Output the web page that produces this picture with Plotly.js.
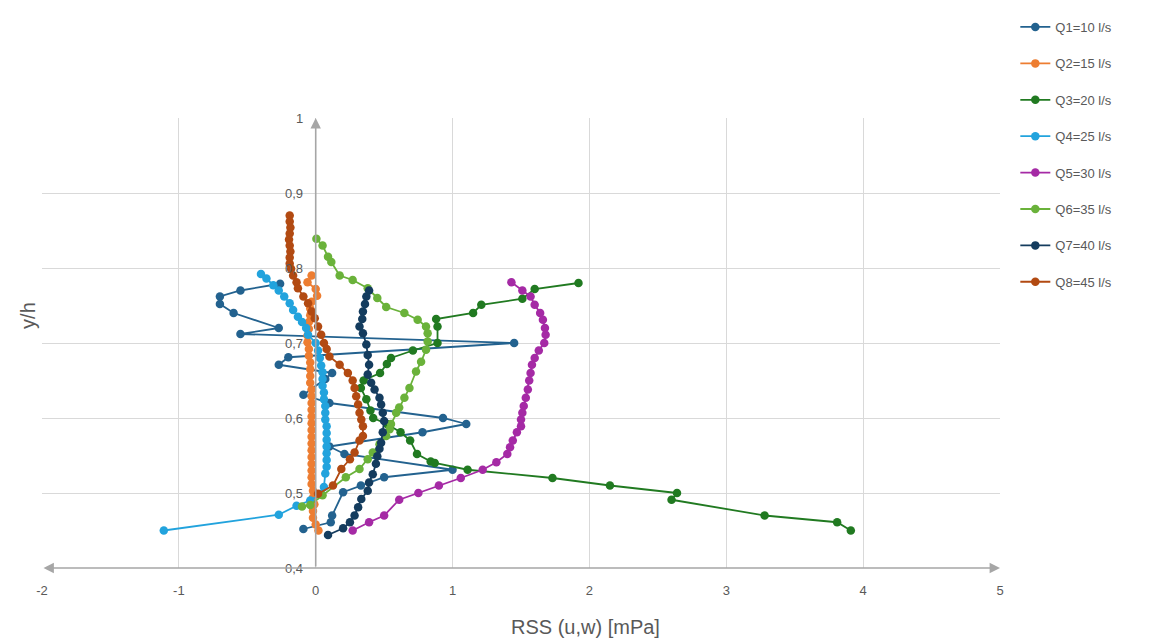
<!DOCTYPE html>
<html>
<head>
<meta charset="utf-8">
<script src="https://cdn.plot.ly/plotly-3.0.1.min.js"></script>
<style>html,body{margin:0;padding:0;background:#fff;}#chart{width:1150px;height:644px;}</style>
</head>
<body>
<div id="chart"></div>
<script>
const seriesNames = ["Q1=10 l/s","Q2=15 l/s","Q3=20 l/s","Q4=25 l/s","Q5=30 l/s","Q6=35 l/s","Q7=40 l/s","Q8=45 l/s"];
const seriesColors = ["#23628f","#ed7d31","#217a21","#22a3dd","#a52aa5","#6ab23a","#143c5e","#b24a12"];

const q1x = [-0.26,-0.55,-0.70,-0.70,-0.60,-0.27,-0.55,1.45,-0.20,-0.27,0.12,0.07,-0.09,0.10,0.93,1.10,0.78,0.10,0.21,1.00,0.50,0.33,0.20,0.12,0.11,-0.09];
const q1y = [0.779,0.770,0.762,0.752,0.740,0.720,0.712,0.700,0.681,0.671,0.660,0.652,0.631,0.620,0.600,0.592,0.581,0.562,0.552,0.531,0.521,0.510,0.501,0.470,0.461,0.452];

const q2x = [-0.03,-0.06,0.00,0.01,-0.03,-0.04,-0.04,-0.05,-0.05,-0.06,-0.06,-0.05,-0.05,-0.04,-0.04,-0.04,-0.04,-0.03,-0.03,-0.03,-0.03,-0.03,-0.03,-0.03,-0.03,-0.03,-0.03,-0.03,-0.03,-0.03,-0.03,-0.03,-0.02,-0.02,-0.01,-0.02,-0.02,0.00,0.02];
const q2y = [0.790,0.781,0.772,0.763,0.755,0.746,0.737,0.728,0.719,0.710,0.701,0.692,0.683,0.674,0.665,0.656,0.647,0.638,0.629,0.620,0.611,0.602,0.593,0.584,0.575,0.566,0.557,0.548,0.539,0.530,0.521,0.512,0.503,0.494,0.485,0.476,0.467,0.458,0.450];

const q3x = [1.92,1.60,1.51,1.21,1.15,0.88,0.89,0.89,0.71,0.55,0.52,0.47,0.35,0.33,0.37,0.40,0.42,0.52,0.62,0.69,0.74,0.84,0.87,1.11,1.73,2.15,2.64,2.60,3.28,3.81,3.91];
const q3y = [0.780,0.772,0.759,0.751,0.740,0.732,0.722,0.700,0.690,0.680,0.672,0.660,0.650,0.640,0.625,0.610,0.600,0.592,0.581,0.570,0.552,0.542,0.540,0.531,0.520,0.510,0.500,0.491,0.470,0.461,0.450];

const q4x = [-0.40,-0.36,-0.31,-0.27,-0.23,-0.19,-0.165,-0.13,-0.10,-0.07,-0.056,0.00,0.017,0.03,0.04,0.05,0.05,0.05,0.06,0.06,0.07,0.07,0.07,0.08,0.08,0.08,0.08,0.08,0.08,0.08,0.07,0.06,0.04,-0.04,-0.14,-0.27,-1.11];
const q4y = [0.792,0.786,0.777,0.770,0.762,0.753,0.744,0.735,0.728,0.720,0.711,0.700,0.690,0.680,0.670,0.661,0.652,0.643,0.634,0.625,0.616,0.607,0.598,0.589,0.580,0.571,0.562,0.553,0.544,0.535,0.526,0.508,0.499,0.490,0.483,0.471,0.450];

const q5x = [1.43,1.51,1.57,1.60,1.64,1.66,1.675,1.68,1.67,1.63,1.60,1.58,1.57,1.56,1.55,1.535,1.52,1.51,1.50,1.50,1.47,1.44,1.42,1.40,1.32,1.22,1.06,0.90,0.75,0.61,0.50,0.39,0.27];
const q5y = [0.781,0.770,0.762,0.751,0.740,0.731,0.720,0.711,0.700,0.690,0.680,0.671,0.660,0.650,0.638,0.627,0.616,0.607,0.598,0.589,0.581,0.570,0.561,0.552,0.541,0.531,0.520,0.510,0.500,0.491,0.470,0.461,0.450];

const q6x = [0.005,0.05,0.09,0.114,0.175,0.27,0.38,0.45,0.515,0.648,0.745,0.806,0.818,0.818,0.806,0.77,0.733,0.685,0.648,0.61,0.588,0.55,0.54,0.515,0.466,0.417,0.38,0.32,0.22,0.05,-0.04,-0.10];
const q6y = [0.839,0.830,0.815,0.808,0.790,0.784,0.773,0.760,0.748,0.740,0.731,0.722,0.713,0.702,0.691,0.675,0.662,0.640,0.627,0.614,0.607,0.592,0.585,0.576,0.565,0.554,0.545,0.532,0.521,0.497,0.484,0.482];

const q7x = [0.39,0.37,0.36,0.345,0.34,0.32,0.345,0.37,0.38,0.39,0.38,0.405,0.43,0.466,0.478,0.49,0.50,0.49,0.478,0.466,0.45,0.44,0.417,0.39,0.38,0.333,0.31,0.284,0.25,0.20,0.09];
const q7y = [0.770,0.762,0.752,0.742,0.732,0.722,0.713,0.698,0.684,0.671,0.658,0.647,0.638,0.627,0.618,0.607,0.596,0.581,0.567,0.559,0.549,0.539,0.525,0.514,0.503,0.492,0.481,0.470,0.461,0.453,0.444];

const q8x = [-0.19,-0.19,-0.185,-0.19,-0.195,-0.19,-0.185,-0.19,-0.19,-0.18,-0.165,-0.14,-0.13,-0.09,-0.056,-0.03,-0.007,0.017,0.04,0.06,0.08,0.10,0.175,0.235,0.27,0.284,0.296,0.31,0.32,0.333,0.345,0.345,0.32,0.284,0.25,0.187,0.126,0.017];
const q8y = [0.870,0.862,0.854,0.846,0.838,0.830,0.822,0.814,0.806,0.799,0.790,0.781,0.773,0.762,0.753,0.742,0.733,0.722,0.711,0.700,0.692,0.682,0.671,0.660,0.650,0.640,0.629,0.618,0.607,0.598,0.589,0.576,0.570,0.554,0.545,0.532,0.510,0.499];

const xTickVals = [-2,-1,0,1,2,3,4,5];
const xTickText = ['-2','-1','0','1','2','3','4','5'];
const yTickVals = [0.4,0.5,0.6,0.7,0.8,0.9,1];
const yTickText = ['0,4','0,5','0,6','0,7','0,8','0,9','1'];

const allX = [q1x,q2x,q3x,q4x,q5x,q6x,q7x,q8x];
const allY = [q1y,q2y,q3y,q4y,q5y,q6y,q7y,q8y];

const traces = allX.map((xs,i)=>({
  type:'scatter', mode:'lines+markers', name:seriesNames[i],
  x:xs, y:allY[i], legendgroup:'g'+i,
  line:{color:seriesColors[i], width:1.8},
  marker:{color:seriesColors[i], size:8.5}
}));

const gray = '#595959';
const layout = {
  width:1150, height:644,
  margin:{l:42, r:150, t:111, b:76},
  paper_bgcolor:'#ffffff', plot_bgcolor:'#ffffff',
  separators:', ',
  font:{family:'Liberation Sans, Arial, sans-serif', color:gray, size:13},
  showlegend:true,
  legend:{x:1.016, y:1.2355, xanchor:'left', yanchor:'top', tracegroupgap:16.5,
          font:{size:13, color:gray}, bgcolor:'rgba(0,0,0,0)'},
  xaxis:{range:[-2,5], tickvals:xTickVals, ticktext:xTickText, showgrid:true, gridcolor:'#d9d9d9', gridwidth:1,
         zeroline:false, showline:false, ticks:'outside', ticklen:10, tickcolor:'rgba(0,0,0,0)',
         tickfont:{size:13, color:gray}, fixedrange:true},
  yaxis:{range:[0.4,1], tickvals:yTickVals, ticktext:yTickText,
         anchor:'free', position:2/7, showgrid:true, gridcolor:'#d9d9d9', gridwidth:1,
         zeroline:false, showline:false, ticks:'outside', ticklen:10, tickcolor:'rgba(0,0,0,0)',
         tickfont:{size:13, color:gray}, fixedrange:true},
  annotations:[
    {x:0, y:1, ax:0, ay:0.4, xref:'x', yref:'y', axref:'x', ayref:'y', text:'', showarrow:true,
     arrowhead:2, arrowsize:1.3, arrowwidth:1.6, arrowcolor:'#a6a6a6'},
    {x:5, y:0.4, ax:-2, ay:0.4, xref:'x', yref:'y', axref:'x', ayref:'y', text:'', showarrow:true,
     arrowhead:2, arrowside:'end+start', arrowsize:1.3, arrowwidth:1.6, arrowcolor:'#a6a6a6'},
    {x:(585-42)/958, y:-(628-568)/457, xref:'paper', yref:'paper', text:'RSS (u,w) [mPa]',
     showarrow:false, font:{size:20, color:gray}, xanchor:'center', yanchor:'middle'},
    {x:(28-42)/958, y:(568-312)/457, xref:'paper', yref:'paper', text:'y/h', textangle:-90,
     showarrow:false, font:{size:20, color:gray}, xanchor:'center', yanchor:'middle'}
  ]
};

Plotly.newPlot('chart', traces, layout, {staticPlot:true, displayModeBar:false});
</script>
</body>
</html>
